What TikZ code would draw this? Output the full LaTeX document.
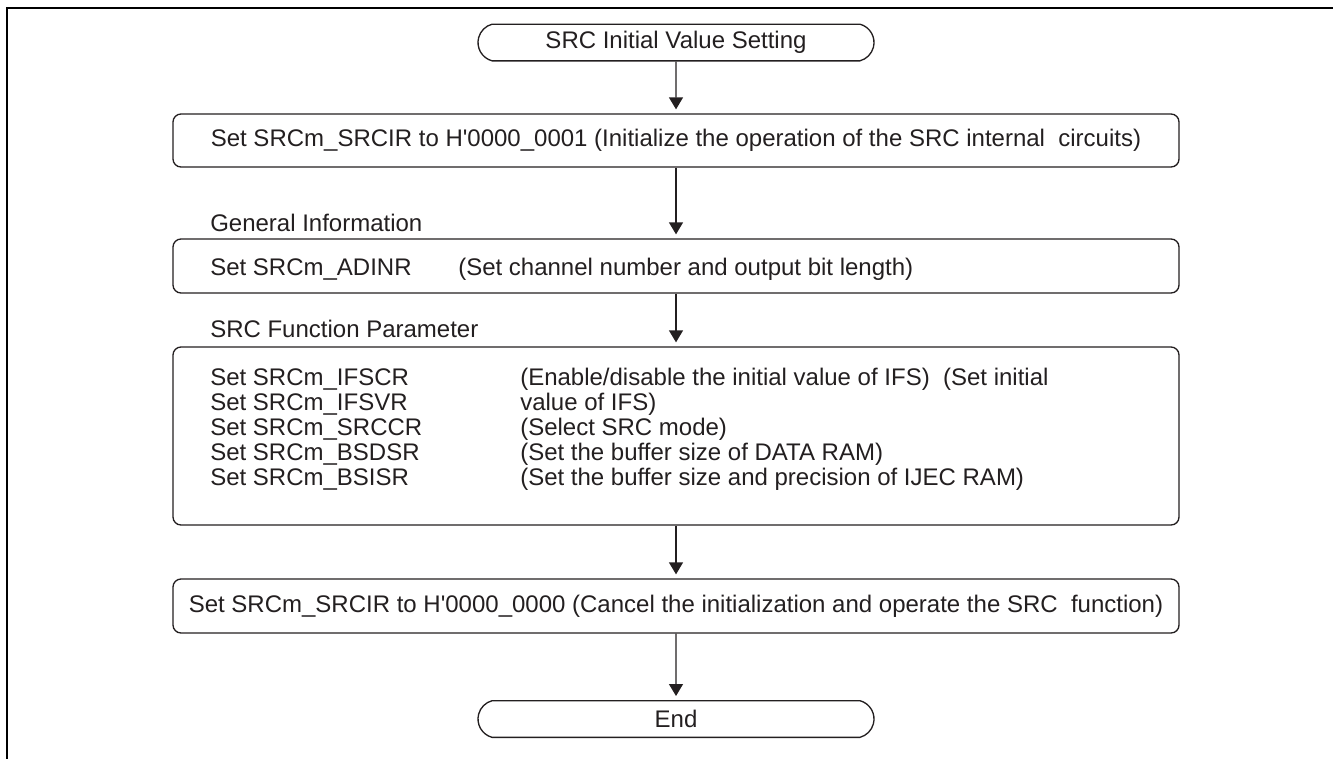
\documentclass[tikz,border=0pt]{standalone}
\usepackage{fontspec}
\setmainfont{Liberation Sans}
\usetikzlibrary{arrows.meta,shapes.misc}
\definecolor{ink}{HTML}{231F20}
\begin{document}
\begin{tikzpicture}[x=0.75pt,y=-0.75pt,
  every node/.style={font=\fontsize{18}{22}\selectfont, text=ink, inner sep=0pt},
  procbox/.style={draw=ink, line width=1pt, rounded corners=6pt, minimum width=754.5pt},
  term/.style={draw=ink, line width=1pt, rounded rectangle, rounded rectangle arc length=150, minimum width=297pt, minimum height=27.5pt},
  flow/.style={draw=ink, line width=1pt, -{Triangle[width=10.5pt,length=9pt]}, shorten >=3pt},
  txt/.style={anchor=base west}
]
\useasboundingbox (0,0) rectangle (1333,758);
\draw[line width=1.6pt, black] (1333,8) -- (7,8) -- (7,760);

\node[term] (start) at (676,42.5) {SRC Initial Value Setting};
\node[procbox, minimum height=39.75pt] (b1) at (676,140.5) {Set SRCm\_SRCIR to H\textquotesingle 0000\_0001 (Initialize the operation of the SRC internal\ \ circuits)};
\node[procbox, minimum height=40.5pt] (b2) at (676,266) {};
\node[procbox, minimum height=133.5pt] (b3) at (676,436) {};
\node[procbox, minimum height=40.5pt] (b4) at (676,606) {Set SRCm\_SRCIR to H\textquotesingle 0000\_0000 (Cancel the initialization and operate the SRC\ \ function)};
\node[term] (end) at (676,719) {End};

\node[txt] (lg) at (210,231) {General Information};
\node[txt] (lf) at (210,337) {SRC Function Parameter};

\node[txt] (t2a) at (210,275) {Set SRCm\_ADINR};
\node[txt] (t2b) at (458,275) {(Set channel number and output bit length)};

\node[txt] (t3a) at (210,385) {Set SRCm\_IFSCR};
\node[txt] (t3b) at (210,410) {Set SRCm\_IFSVR};
\node[txt] (t3c) at (210,435) {Set SRCm\_SRCCR};
\node[txt] (t3d) at (210,460) {Set SRCm\_BSDSR};
\node[txt] (t3e) at (210,485) {Set SRCm\_BSISR};
\node[txt] (u3a) at (520,385) {(Enable/disable the initial value of IFS)\ \ (Set initial};
\node[txt] (u3b) at (520,410) {value of IFS)};
\node[txt] (u3c) at (520,435) {(Select SRC mode)};
\node[txt] (u3d) at (520,460) {(Set the buffer size of DATA RAM)};
\node[txt] (u3e) at (520,485) {(Set the buffer size and precision of IJEC RAM)};

\draw[flow] (start) -- (b1);
\draw[flow] (b1) -- (b2);
\draw[flow] (b2) -- (b3);
\draw[flow] (b3) -- (b4);
\draw[flow] (b4) -- (end);
\end{tikzpicture}
\end{document}
